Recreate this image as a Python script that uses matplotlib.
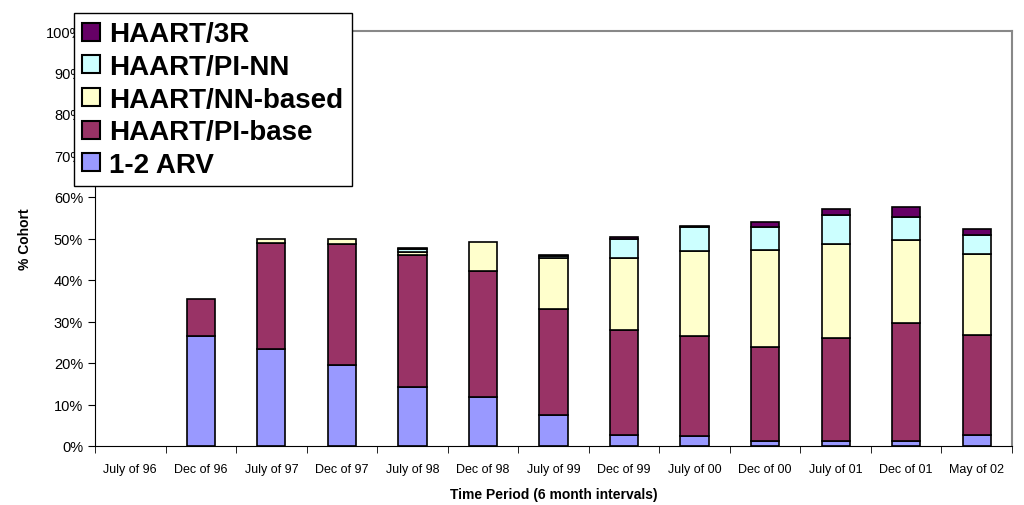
import numpy as np
import matplotlib.pyplot as plt
from matplotlib.patches import Patch
from matplotlib.ticker import FuncFormatter

periods = ['July of 96', 'Dec of 96', 'July of 97', 'Dec of 97', 'July of 98', 'Dec of 98',
           'July of 99', 'Dec of 99', 'July of 00', 'Dec of 00', 'July of 01', 'Dec of 01', 'May of 02']

arv12 = [0, 26.5, 23.4, 19.6, 14.2, 11.9, 7.5, 2.7, 2.5, 1.2, 1.1, 1.3, 2.7]
pi_base = [0, 8.9, 25.5, 29.1, 31.8, 30.2, 25.5, 25.3, 24.0, 22.6, 24.9, 28.3, 24.1]
nn_based = [0, 0, 1.0, 1.2, 0.8, 7.1, 12.4, 17.3, 20.6, 23.5, 22.7, 20.0, 19.5]
pi_nn = [0, 0, 0, 0, 0.6, 0, 0.3, 4.7, 5.7, 5.5, 7.0, 5.5, 4.6]
haart_3r = [0, 0, 0, 0, 0.2, 0, 0.3, 0.4, 0.3, 1.1, 1.5, 2.6, 1.3]

series = [('1-2 ARV', arv12, '#9999FF'),
          ('HAART/PI-base', pi_base, '#993366'),
          ('HAART/NN-based', nn_based, '#FFFFCC'),
          ('HAART/PI-NN', pi_nn, '#CCFFFF'),
          ('HAART/3R', haart_3r, '#660066')]

plt.rcParams['font.family'] = ['Liberation Sans', 'DejaVu Sans']

fig = plt.figure(figsize=(10.24, 5.06), dpi=100)
ax = fig.add_axes([95 / 1024, (506 - 447) / 506, (1012 - 95) / 1024, (447 - 32) / 506])

x = np.arange(len(periods))
bottom = np.zeros(len(periods))
for name, vals, col in series:
    v = np.array(vals, dtype=float)
    lw = np.where(v > 0, 1.2, 0)
    ax.bar(x, v, width=0.4, bottom=bottom, color=col, edgecolor='black', linewidth=lw)
    bottom += v

ax.set_xlim(-0.5, len(periods) - 0.5)
ax.set_ylim(0, 100)
ax.set_yticks(np.arange(0, 101, 10))
ax.yaxis.set_major_formatter(FuncFormatter(lambda v, p: '%d%%' % v))
ax.set_xticks(x)
ax.set_xticklabels(periods, fontsize=9, family=['Liberation Sans Narrow', 'Liberation Sans'])
ax.set_xticks(np.arange(-0.5, len(periods), 1), minor=True)
ax.tick_params(axis='x', which='major', length=0, pad=12)
ax.tick_params(axis='x', which='minor', length=5, direction='out', color='black')
ax.tick_params(axis='y', length=5, direction='out', labelsize=10.5)

for s in ['top', 'right']:
    ax.spines[s].set_color('#888888')
    ax.spines[s].set_linewidth(1.5)
for s in ['left', 'bottom']:
    ax.spines[s].set_color('black')

ax.set_xlabel('Time Period (6 month intervals)', fontsize=10, fontweight='bold', labelpad=9)
ax.set_ylabel('% Cohort', fontsize=10, fontweight='bold', labelpad=10)

handles = [Patch(facecolor=col, edgecolor='black', linewidth=1.5, label=name)
           for name, vals, col in series][::-1]
leg = fig.legend(handles=handles,
                 loc='upper left', bbox_to_anchor=(74 / 1024, 1 - 14 / 506),
                 prop={'weight': 'bold', 'size': 20},
                 frameon=True, fancybox=False, edgecolor='black', framealpha=1,
                 handlelength=0.62, handleheight=0.62, handletextpad=0.35,
                 labelspacing=0.24, borderpad=0.3, borderaxespad=0)
leg.get_frame().set_linewidth(1.0)

fig.savefig('out.png', dpi=100)
